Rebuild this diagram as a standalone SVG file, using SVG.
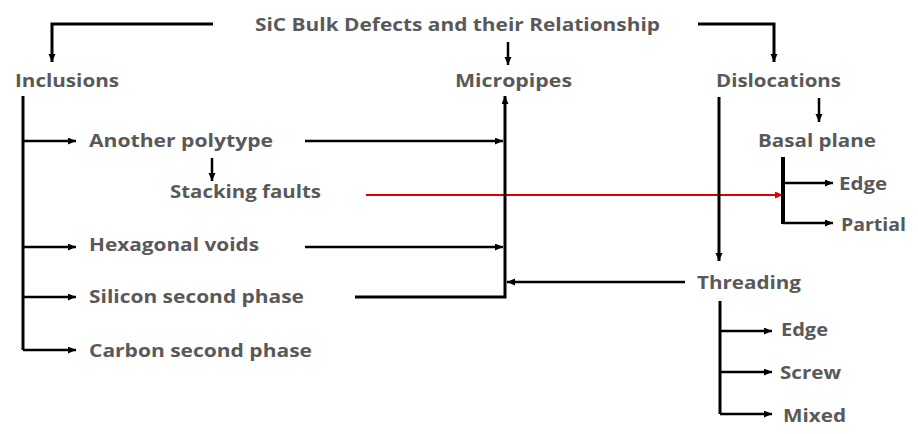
<svg xmlns="http://www.w3.org/2000/svg" width="918" height="434" viewBox="0 0 918 434">
<style>
text{font-family:"Open Sans","Noto Sans","Liberation Sans",sans-serif;font-weight:bold;font-size:18px;fill:#595959}
.c{fill:none;stroke:#000;stroke-width:2.5}
.t{fill:none;stroke:#000;stroke-width:3}
.r{fill:none;stroke:#e00000;stroke-width:2}
</style>
<defs>
<marker id="a" markerUnits="userSpaceOnUse" markerWidth="9" markerHeight="8" refX="8" refY="3.5" orient="auto"><path d="M0,0 L8,3.5 L0,7 z" fill="#000"/></marker>
<marker id="ar" markerUnits="userSpaceOnUse" markerWidth="9" markerHeight="8" refX="8" refY="3.5" orient="auto"><path d="M0,0 L8,3.5 L0,7 z" fill="#e00000"/></marker>
</defs>
<rect width="918" height="434" fill="#fff"/>
<g id="connectors">
<path class="r" d="M366,195 H783" marker-end="url(#ar)"/>
<path class="t" d="M213,24 H52 V62" marker-end="url(#a)"/>
<path class="c" d="M508,42 V65" marker-end="url(#a)"/>
<path class="t" d="M698,24 H774 V62" marker-end="url(#a)"/>
<path class="t" d="M23,96 V350"/>
<path class="c" d="M23,141 H76" marker-end="url(#a)"/>
<path class="c" d="M23,247 H76" marker-end="url(#a)"/>
<path class="c" d="M23,297 H76" marker-end="url(#a)"/>
<path class="c" d="M23,350 H76" marker-end="url(#a)"/>
<path class="c" d="M212,158 V181" marker-end="url(#a)"/>
<path class="c" d="M305,141 H503" marker-end="url(#a)"/>
<path class="c" d="M305,247 H503" marker-end="url(#a)"/>
<path class="t" d="M355,297 H505 V96" marker-end="url(#a)"/>
<path class="c" d="M685,282 H507" marker-end="url(#a)"/>
<path class="t" d="M719,97 V261" marker-end="url(#a)"/>
<path class="c" d="M819,98 V122" marker-end="url(#a)"/>
<path class="t" d="M783,157 V224" style="stroke-width:4"/>
<path class="c" d="M783,183 H833" marker-end="url(#a)"/>
<path class="c" d="M783,223 H833" marker-end="url(#a)"/>
<path class="t" d="M720,301 V414"/>
<path class="c" d="M720,331 H772" marker-end="url(#a)"/>
<path class="c" d="M720,372 H772" marker-end="url(#a)"/>
<path class="c" d="M720,414 H772" marker-end="url(#a)"/>
</g>
<g id="title"><text x="255" y="31" textLength="405" lengthAdjust="spacingAndGlyphs">SiC Bulk Defects and their Relationship</text></g>
<g id="inclusions"><text x="15" y="87" textLength="104" lengthAdjust="spacingAndGlyphs">Inclusions</text></g>
<g id="micropipes"><text x="455" y="87" textLength="117" lengthAdjust="spacingAndGlyphs">Micropipes</text></g>
<g id="dislocations"><text x="716" y="87" textLength="125" lengthAdjust="spacingAndGlyphs">Dislocations</text></g>
<g id="another-polytype"><text x="89" y="147" textLength="184" lengthAdjust="spacingAndGlyphs">Another polytype</text></g>
<g id="stacking-faults"><text x="170" y="198" textLength="151" lengthAdjust="spacingAndGlyphs">Stacking faults</text></g>
<g id="basal-plane"><text x="758" y="147" textLength="118" lengthAdjust="spacingAndGlyphs">Basal plane</text></g>
<g id="basal-edge"><text x="839" y="190" textLength="48" lengthAdjust="spacingAndGlyphs">Edge</text></g>
<g id="basal-partial"><text x="841" y="231" textLength="65" lengthAdjust="spacingAndGlyphs">Partial</text></g>
<g id="hexagonal-voids"><text x="89" y="251" textLength="170" lengthAdjust="spacingAndGlyphs">Hexagonal voids</text></g>
<g id="silicon-second-phase"><text x="89" y="303" textLength="215" lengthAdjust="spacingAndGlyphs">Silicon second phase</text></g>
<g id="carbon-second-phase"><text x="89" y="357" textLength="223" lengthAdjust="spacingAndGlyphs">Carbon second phase</text></g>
<g id="threading"><text x="697" y="289" textLength="104" lengthAdjust="spacingAndGlyphs">Threading</text></g>
<g id="threading-edge"><text x="781" y="336" textLength="47" lengthAdjust="spacingAndGlyphs">Edge</text></g>
<g id="threading-screw"><text x="780" y="379" textLength="61" lengthAdjust="spacingAndGlyphs">Screw</text></g>
<g id="threading-mixed"><text x="783" y="422" textLength="63" lengthAdjust="spacingAndGlyphs">Mixed</text></g>
</svg>
